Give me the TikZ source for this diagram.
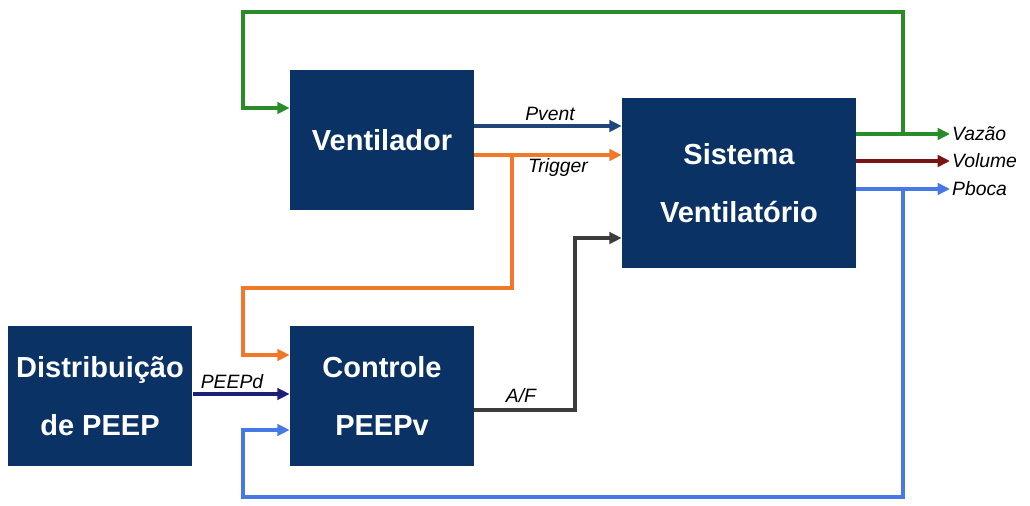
\documentclass[tikz,border=0pt]{standalone}
\usepackage{fontspec}
\setmainfont{Liberation Sans}
\usetikzlibrary{arrows.meta}
\definecolor{blk}{RGB}{10,50,100}
\definecolor{grn}{RGB}{40,140,40}
\definecolor{org}{RGB}{240,120,40}
\definecolor{dred}{RGB}{120,20,20}
\definecolor{lblue}{RGB}{70,120,230}
\definecolor{navy}{RGB}{30,30,120}
\definecolor{pv}{RGB}{30,70,120}
\definecolor{af}{RGB}{60,60,60}
\begin{document}
\begin{tikzpicture}[
        x={(0.02cm,0cm)},
        y={(0cm,-0.02cm)},
        box/.style={rectangle, fill=blk, text=white, align=center, inner sep=0pt,
          font=\fontsize{16.5}{33}\selectfont\bfseries},
        sig/.style={-{Triangle[length=7pt,width=6.5pt]}, line width=1.9pt},
        lbl/.style={font=\fontsize{11}{13}\selectfont\itshape, inner sep=1pt},
        ]
        \useasboundingbox (0,0) rectangle (1030,506);

        \node(vent)[box, minimum width=3.68cm, minimum height=2.8cm] at (382,140) {Ventilador};
        \node(sist)[box, minimum width=4.68cm, minimum height=3.4cm] at (739,183) {Sistema\\Ventilatório};
        \node(dist)[box, minimum width=3.7cm, minimum height=2.82cm] at (100,396) {Distribuição\\de PEEP};
        \node(ctrl)[box, minimum width=3.68cm, minimum height=2.82cm] at (382,396) {Controle\\PEEPv};

        % outputs
        \node(lvaz)[lbl, right] at (950,134) {Vazão};
        \node(lvol)[lbl, right] at (950,161) {Volume};
        \node(lpbo)[lbl, right] at (950,189) {Pboca};
        \coordinate(vz) at (903,134);
        \coordinate(pb) at (903,189);
        \coordinate(trg) at (512,155);

        \draw[sig, grn](sist.east |- lvaz)--(lvaz.west);
        \draw[sig, dred](sist.east |- lvol)--(lvol.west);
        \draw[sig, lblue](sist.east |- lpbo)--(lpbo.west);

        % feedback
        \draw[sig, grn](vz)|-(243,12)|-(vent.west |- 0,108);
        \draw[sig, lblue](pb)|-(243,497)|-(ctrl.west |- 0,430);
        \draw[sig, org](trg)|-(243,288)|-(ctrl.west |- 0,355);

        % forward
        \draw[sig, pv](vent.east |- 0,126)--(sist.west |- 0,126);
        \draw[sig, org](vent.east |- trg)--(sist.west |- trg);
        \draw[sig, navy](dist.east |- 0,394)--(ctrl.west |- 0,394);
        \draw[sig, af](ctrl.east |- 0,410)-|(575,238)--(sist.west |- 0,238);

        \node[lbl] at (550,114) {Pvent};
        \node[lbl] at (558,168) {Trigger};
        \node[lbl] at (232,382) {PEEPd};
        \node[lbl] at (521,396) {A/F};
      \end{tikzpicture}
\end{document}
